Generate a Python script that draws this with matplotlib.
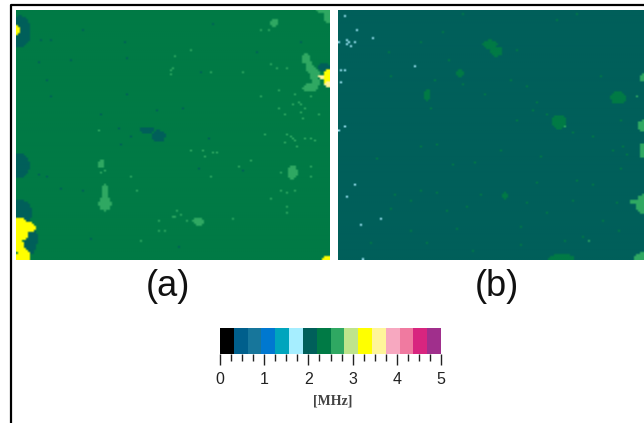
import numpy as np
import matplotlib
matplotlib.use("Agg")
import matplotlib.pyplot as plt
from matplotlib.colors import ListedColormap, Normalize
from matplotlib.cm import ScalarMappable
from matplotlib.lines import Line2D

# colour scale, 16 classes from 0 to 5 MHz
scale_colors = ["#000000", "#005f8c", "#17769b", "#0078d0", "#00a5bd", "#a6eeff",
                "#005f5a", "#007a45", "#2fa862", "#bfe48c", "#ffff00", "#fff59a",
                "#f7a8c0", "#f07aa0", "#d8257f", "#a02f8c"]
tick_major = [0, 1, 2, 3, 4, 5]

# maps are read in (col, row) cells, about 2 px each
rows = 125
cols_a = 157
cols_b = 153

# panel (a): blobs as x0, y0, x1, y1 in zoomed crop pixels
a_light_blobs = [(812, 60, 835, 82), (295, 478, 315, 507), (296, 588, 334, 634),
                 (306, 555, 324, 600), (578, 652, 612, 677), (862, 497, 892, 540),
                 (906, 160, 928, 195), (915, 185, 940, 220), (930, 205, 958, 245),
                 (908, 252, 952, 278), (936, 230, 958, 270), (950, 20, 1010, 45),
                 (972, 30, 1000, 75)]
a_light_dots = [(525, 168), (575, 150), (520, 205), (515, 212), (510, 222), (632, 220),
                (730, 220), (780, 92), (805, 92), (812, 195), (828, 208), (862, 208),
                (838, 272), (780, 292), (838, 325), (855, 345), (958, 345), (797, 403),
                (298, 390), (575, 455), (608, 455), (617, 468), (640, 460), (648, 460),
                (715, 500), (755, 480), (632, 532), (395, 533), (412, 572), (300, 520),
                (315, 515), (845, 520), (935, 500), (930, 528), (845, 573), (862, 580),
                (885, 572), (812, 598), (862, 622), (862, 637), (698, 657), (478, 663),
                (478, 690), (495, 690), (420, 722), (560, 662), (525, 650), (518, 652),
                (530, 635), (540, 642), (915, 415), (935, 415), (945, 422), (885, 285),
                (895, 310), (880, 312), (905, 315), (915, 325), (905, 340), (910, 358),
                (930, 290), (860, 403), (870, 408), (880, 415), (885, 425), (855, 428),
                (888, 442)]
a_teal_blobs = [(418, 382, 465, 402), (455, 392, 497, 427), (30, 50, 92, 145),
                (30, 460, 88, 535), (30, 600, 95, 680), (70, 670, 112, 765),
                (955, 190, 990, 218), (970, 235, 992, 262)]
a_teal_dots = [(120, 125), (150, 120), (375, 128), (115, 190), (215, 185), (380, 175),
               (600, 220), (770, 160), (905, 130), (150, 292), (380, 285), (470, 335),
               (550, 325), (355, 385), (390, 412), (625, 415), (360, 432), (118, 525),
               (140, 528), (250, 570), (180, 565), (275, 715), (535, 740), (595, 505),
               (730, 515), (140, 240), (300, 345), (640, 75), (250, 95)]
a_yellow_blobs = [(30, 652, 88, 725), (75, 668, 107, 697), (35, 715, 72, 755),
                  (50, 745, 92, 800), (970, 212, 1000, 258), (35, 78, 60, 107),
                  (965, 768, 1010, 795)]
a_pale_blobs = [(955, 226, 975, 238), (972, 248, 1000, 262)]

# panel (b)
b_green_blobs = [(488, 122, 532, 150), (512, 142, 548, 172), (695, 347, 740, 388),
                 (872, 275, 918, 315), (408, 212, 432, 232), (685, 762, 765, 790),
                 (543, 578, 567, 597), (313, 270, 332, 305)]
b_green_dots = [(205, 160), (370, 100), (430, 45), (300, 130), (385, 185), (215, 230),
                (345, 240), (430, 255), (495, 285), (620, 260), (650, 310), (640, 335),
                (590, 360), (680, 345), (335, 325), (305, 440), (350, 435), (170, 475),
                (400, 495), (465, 490), (545, 450), (820, 410), (880, 455), (910, 440),
                (920, 465), (905, 505), (770, 545), (650, 550), (820, 555), (225, 585),
                (350, 580), (305, 575), (270, 600), (210, 625), (380, 635), (440, 620),
                (480, 585), (620, 610), (680, 640), (760, 600), (890, 610), (850, 660),
                (600, 680), (410, 685), (270, 690), (150, 730), (320, 730), (460, 750),
                (600, 735), (735, 725), (790, 710), (895, 690), (710, 65), (770, 45),
                (590, 150), (570, 245), (840, 230), (900, 360), (760, 400), (660, 470)]
b_light_blobs = [(958, 222, 990, 248), (952, 362, 990, 398), (958, 428, 990, 478),
                 (925, 598, 985, 614), (948, 585, 990, 642), (942, 758, 990, 800)]
b_light_dots = [(948, 288), (808, 720), (735, 378)]
b_cyan_dots = [(72, 48), (113, 95), (157, 115), (55, 127), (80, 120), (88, 127),
               (105, 127), (80, 132), (90, 140), (285, 198), (62, 211), (72, 211),
               (64, 248), (72, 378), (55, 392), (105, 552), (80, 592), (180, 655),
               (120, 675), (128, 778)]


def paint(grid, x0, blobs, dots, value):
    # crop pixels -> cells, the crops are 3x and the cells are 2 px
    rr, cc = np.mgrid[0:grid.shape[0], 0:grid.shape[1]]
    for b in blobs:
        cx = ((b[0] + b[2]) / 2 - x0) / 6
        cy = ((b[1] + b[3]) / 2 - 30) / 6
        rx = (b[2] - b[0]) / 12
        ry = (b[3] - b[1]) / 12
        grid[((cc + 0.5 - cx) / rx) ** 2 + ((rr + 0.5 - cy) / ry) ** 2 <= 1] = value
    for d in dots:
        c = int((d[0] - x0) / 6)
        r = int((d[1] - 30) / 6)
        if 0 <= r < grid.shape[0] and 0 <= c < grid.shape[1]:
            grid[r, c] = value


grid_a = np.full((rows, cols_a), 7)
paint(grid_a, 48, a_teal_blobs, a_teal_dots, 6)
paint(grid_a, 48, a_light_blobs, a_light_dots, 8)
paint(grid_a, 48, a_yellow_blobs, [], 10)
paint(grid_a, 48, a_pale_blobs, [], 11)

grid_b = np.full((rows, cols_b), 6)
paint(grid_b, 54, b_green_blobs, b_green_dots, 7)
paint(grid_b, 54, b_light_blobs, b_light_dots, 8)
paint(grid_b, 54, [], b_cyan_dots, 5)

W, H = 644, 423
fig = plt.figure(figsize=(W / 100, H / 100), dpi=100, facecolor="white")


def px_axes(x0, y0, x1, y1):
    return fig.add_axes([x0 / W, 1 - y1 / H, (x1 - x0) / W, (y1 - y0) / H])


cmap = ListedColormap(scale_colors)
norm = Normalize(0, 16)
for grid, box in [(grid_a, (16, 10, 329, 260)), (grid_b, (338, 10, 644, 260))]:
    ax = px_axes(*box)
    # rgb so the smoothing does not pass through other classes
    ax.imshow(cmap(norm(grid + 0.5)), aspect="auto", interpolation="bilinear")
    ax.axis("off")

# frame of the page
fig.add_artist(Line2D([10.5 / W, 10.5 / W, 1], [0, 1 - 5.5 / H, 1 - 5.5 / H], color="black", lw=1.6))

fig.text(168 / W, 1 - 287 / H, "(a)", family="Liberation Sans", fontsize=26, ha="center", va="center", color="#111111")
fig.text(497 / W, 1 - 287 / H, "(b)", family="Liberation Sans", fontsize=26, ha="center", va="center", color="#111111")

cax = px_axes(220, 328, 441, 354)
cb = fig.colorbar(ScalarMappable(norm=Normalize(0, 5), cmap=cmap), cax=cax, orientation="horizontal")
cb.outline.set_visible(False)
cb.set_ticks(tick_major)
cb.set_ticks(np.arange(0, 5.01, 0.25), minor=True)
cax.tick_params(axis="x", which="major", length=8, width=1, pad=5, labelsize=11.5, color="#222222", labelcolor="#222222")
cax.tick_params(axis="x", which="minor", length=5, width=1, color="#222222")
for t in cax.get_xticklabels():
    t.set_family("Liberation Sans")
fig.text(333 / W, 1 - 401 / H, "[MHz]", family="Liberation Serif", fontsize=10, fontweight="bold", ha="center", va="center", color="#444444")

fig.savefig("out.png", dpi=100)
